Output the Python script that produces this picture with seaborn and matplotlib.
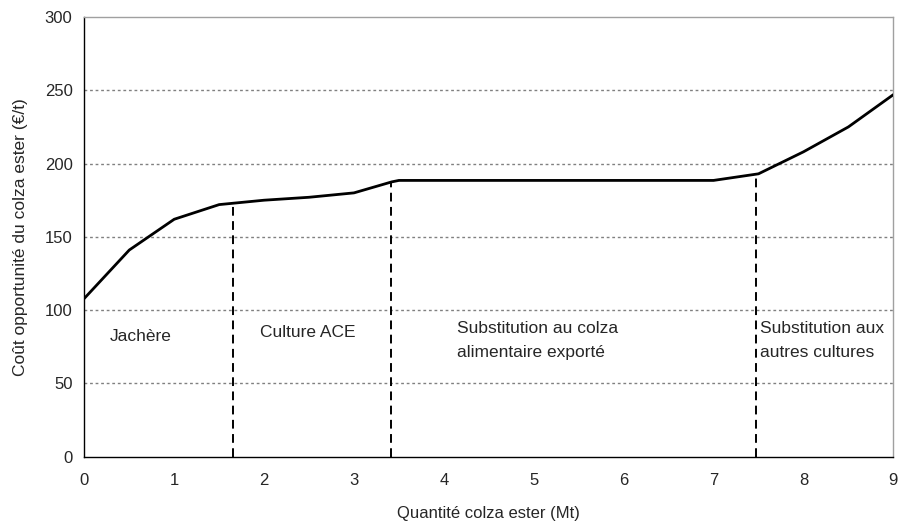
import matplotlib
matplotlib.use("Agg")
import matplotlib.pyplot as plt
import seaborn as sns
import pandas as pd
import numpy as np

# Courbe du coût opportunité
quantite = [0, 0.5, 1.0, 1.5, 2.0, 2.5, 3.0, 3.42, 3.5, 4.0, 5.0, 6.0, 7.0, 7.5, 8.0, 8.5, 9.0]
cout = [108, 141, 162, 172, 175, 177, 180, 187.5, 188.5, 188.5, 188.5, 188.5, 188.5, 193, 208, 225, 247]

# Limites entre zones
limites_x = [1.65, 3.41, 7.47]

# Étiquettes des zones (position x, position y, texte)
zones_x = [0.28, 1.95, 4.15, 7.52]
zones_y = [81.7, 84.4, 79.3, 79.3]
zones_txt = ["Jachère", "Culture ACE", "Substitution au colza\nalimentaire exporté",
             "Substitution aux\nautres cultures"]

sns.set_style("white")
plt.rcParams["font.family"] = ["Liberation Sans", "DejaVu Sans"]

fig = plt.figure(figsize=(8.98, 5.21), dpi=100)
ax = fig.add_axes([0.0939, 0.1234, 0.9009, 0.844])

df = pd.DataFrame({"q": quantite, "c": cout})

for y in [50, 100, 150, 200, 250]:
    ax.axhline(y, color="#808080", lw=1.0, ls=(0, (2, 2)), zorder=1)

# pointillés verticaux jusqu'à la courbe
for xv in limites_x:
    yv = np.interp(xv, quantite, cout)
    ax.plot([xv, xv], [0, yv], color="black", lw=1.4, ls=(0, (4.5, 2.8)), zorder=2)

sns.lineplot(data=df, x="q", y="c", ax=ax, color="black", lw=2.0, zorder=3)

for x, y, t in zip(zones_x, zones_y, zones_txt):
    ax.text(x, y, t, fontsize=12.5, va="center", ha="left", linespacing=1.7)

ax.set_xlim(0, 9)
ax.set_ylim(0, 300)
ax.set_xticks(range(0, 10))
ax.set_yticks(range(0, 301, 50))
ax.tick_params(axis="both", labelsize=12, direction="out", length=5, width=1, color="black")
ax.tick_params(axis="x", pad=7)
ax.set_xlabel("Quantité colza ester (Mt)", fontsize=12, labelpad=13)
ax.set_ylabel("Coût opportunité du colza ester (€/t)", fontsize=12.5, labelpad=12)

for s in ["left", "bottom"]:
    ax.spines[s].set_color("black")
    ax.spines[s].set_linewidth(1.0)
for s in ["top", "right"]:
    ax.spines[s].set_color("#a0a0a0")
    ax.spines[s].set_linewidth(1.0)

fig.savefig("out.png", dpi=100)
